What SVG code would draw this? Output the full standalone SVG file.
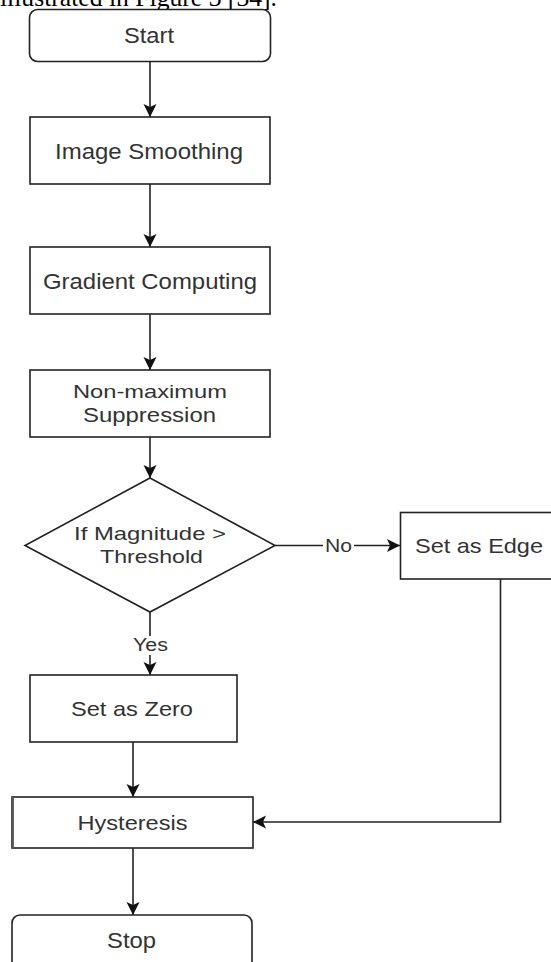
<svg xmlns="http://www.w3.org/2000/svg" width="551" height="962" viewBox="0 0 551 962">
  <style>
    .box { fill: #ffffff; stroke: #222222; stroke-width: 1.6; }
    .edge { fill: none; stroke: #222222; stroke-width: 1.6; }
    .t { font-family: "Liberation Sans", Arial, sans-serif; fill: #333333; text-anchor: middle; }
    .lbl { font-family: "Liberation Sans", Arial, sans-serif; fill: #333333; text-anchor: middle; font-size: 18px; }
    .caption { font-family: "Liberation Serif", "Times New Roman", serif; fill: #000000; font-size: 25px; }
  </style>
  <defs>
    <marker id="arrow" viewBox="-14 -8 15 16" refX="0" refY="0" markerWidth="15" markerHeight="16" markerUnits="userSpaceOnUse" orient="auto">
      <path d="M0,0 L-13,-6.5 L-10,0 L-13,6.5 Z" fill="#111111"/>
    </marker>
  </defs>

  <rect width="551" height="962" fill="#ffffff"/>

  <!-- running text of the page above the figure -->
  <text class="caption" x="0" y="6" textLength="277" lengthAdjust="spacingAndGlyphs">illustrated in Figure 3 [34].</text>

  <!-- connectors -->
  <g id="connectors">
    <line class="edge" x1="150" y1="61" x2="150" y2="117" marker-end="url(#arrow)"/>
    <line class="edge" x1="150" y1="184" x2="150" y2="247" marker-end="url(#arrow)"/>
    <line class="edge" x1="150" y1="314" x2="150" y2="370" marker-end="url(#arrow)"/>
    <line class="edge" x1="150" y1="437" x2="150" y2="478" marker-end="url(#arrow)"/>
    <line class="edge" x1="150" y1="612" x2="150" y2="675" marker-end="url(#arrow)"/>
    <line class="edge" x1="275" y1="545.5" x2="400" y2="545.5" marker-end="url(#arrow)"/>
    <line class="edge" x1="133" y1="742" x2="133" y2="797" marker-end="url(#arrow)"/>
    <polyline class="edge" points="500.5,579 500.5,822 253,822" marker-end="url(#arrow)"/>
    <line class="edge" x1="133" y1="848" x2="133" y2="915" marker-end="url(#arrow)"/>
    <!-- edge labels -->
    <rect x="134" y="636" width="33" height="19" fill="#ffffff"/>
    <text class="lbl" x="150.5" y="651" textLength="35" lengthAdjust="spacingAndGlyphs">Yes</text>
    <rect x="323" y="537" width="31" height="18" fill="#ffffff"/>
    <text class="lbl" x="338.5" y="552" textLength="27" lengthAdjust="spacingAndGlyphs">No</text>
  </g>

  <g id="start">
    <rect class="box" x="29.5" y="9.5" width="241" height="52" rx="8"/>
    <text class="t" font-size="22" x="149" y="43" textLength="50" lengthAdjust="spacingAndGlyphs">Start</text>
  </g>

  <g id="image-smoothing">
    <rect class="box" x="30" y="117" width="240" height="67"/>
    <text class="t" font-size="22" x="149" y="159" textLength="188" lengthAdjust="spacingAndGlyphs">Image Smoothing</text>
  </g>

  <g id="gradient-computing">
    <rect class="box" x="30" y="247" width="240" height="67"/>
    <text class="t" font-size="22" x="150" y="289" textLength="214" lengthAdjust="spacingAndGlyphs">Gradient Computing</text>
  </g>

  <g id="non-maximum-suppression">
    <rect class="box" x="30" y="370" width="240" height="67"/>
    <text class="t" font-size="19" x="150" y="398" textLength="154" lengthAdjust="spacingAndGlyphs">Non-maximum</text>
    <text class="t" font-size="20" x="149.5" y="422" textLength="133" lengthAdjust="spacingAndGlyphs">Suppression</text>
  </g>

  <g id="magnitude-check">
    <polygon class="box" points="150,478 275,545.5 150,612 25,545.5"/>
    <text class="t" font-size="19" x="150" y="540" textLength="152" lengthAdjust="spacingAndGlyphs">If Magnitude &gt;</text>
    <text class="t" font-size="19" x="151.5" y="563" textLength="103" lengthAdjust="spacingAndGlyphs">Threshold</text>
  </g>

  <g id="set-as-zero">
    <rect class="box" x="30" y="675" width="207" height="67"/>
    <text class="t" font-size="21" x="132" y="716" textLength="122" lengthAdjust="spacingAndGlyphs">Set as Zero</text>
  </g>

  <g id="set-as-edge">
    <rect class="box" x="400.5" y="512.5" width="170" height="66.5"/>
    <text class="t" font-size="21" x="479" y="553" textLength="128" lengthAdjust="spacingAndGlyphs">Set as Edge</text>
  </g>

  <g id="hysteresis">
    <rect class="box" x="12" y="797" width="241" height="51"/>
    <line x1="12.5" y1="797" x2="12.5" y2="848" stroke="#555555" stroke-width="2.8"/>
    <text class="t" font-size="21" x="132.5" y="830" textLength="110" lengthAdjust="spacingAndGlyphs">Hysteresis</text>
  </g>

  <g id="stop">
    <rect class="box" x="12" y="915" width="240" height="60" rx="8"/>
    <text class="t" font-size="22" x="131.5" y="948" textLength="49" lengthAdjust="spacingAndGlyphs">Stop</text>
  </g>
</svg>
